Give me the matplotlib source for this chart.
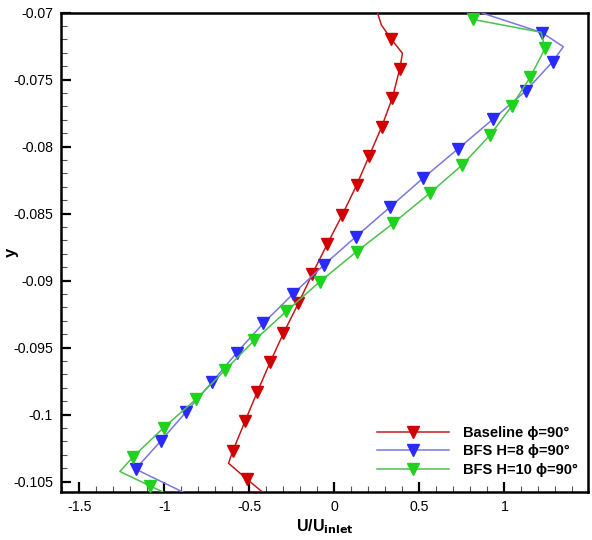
import numpy as np
import matplotlib
matplotlib.use("Agg")
import matplotlib.pyplot as plt
from matplotlib.ticker import FixedLocator, MultipleLocator, FuncFormatter

plt.rcParams['font.family'] = ['Liberation Sans', 'DejaVu Sans']
plt.rcParams['axes.unicode_minus'] = False

# ---- data (vertices of each profile; mark = 1 where a symbol is drawn) ----
base_u = [0.253, 0.276, 0.335, 0.400, 0.384, 0.341, 0.277, 0.204, 0.130, 0.046,
          -0.042, -0.130, -0.212, -0.300, -0.378, -0.453, -0.525, -0.597, -0.623,
          -0.515, -0.423]
base_y = [-0.0700, -0.07092, -0.07199, -0.07303, -0.07420, -0.07634, -0.07855,
          -0.08070, -0.08288, -0.08510, -0.08726, -0.08950, -0.09169, -0.09393,
          -0.09609, -0.09828, -0.10047, -0.10269, -0.10363, -0.10482, -0.10579]
base_m = [0, 0, 1, 0, 1, 1, 1, 1, 1, 1, 1, 1, 1, 1, 1, 1, 1, 1, 0, 1, 0]

h8_u = [0.863, 1.221, 1.346, 1.283, 1.127, 0.931, 0.726, 0.521, 0.326, 0.126,
        -0.062, -0.245, -0.418, -0.574, -0.720, -0.871, -1.019, -1.170, -0.890]
h8_y = [-0.0700, -0.07149, -0.07254, -0.07366, -0.07582, -0.07796, -0.08017,
        -0.08235, -0.08452, -0.08672, -0.08883, -0.09101, -0.09318, -0.09537,
        -0.09758, -0.09978, -0.10194, -0.10407, -0.10579]
h8_m = [0, 1, 0, 1, 1, 1, 1, 1, 1, 1, 1, 1, 1, 1, 1, 1, 1, 1, 0]

h10_u = [0.814, 1.215, 1.239, 1.151, 1.043, 0.916, 0.752, 0.560, 0.345, 0.130,
         -0.085, -0.284, -0.472, -0.642, -0.812, -1.004, -1.184, -1.262, -1.086,
         -1.006]
h10_y = [-0.07050, -0.07146, -0.07266, -0.07482, -0.07696, -0.07913, -0.08136,
         -0.08348, -0.08572, -0.08784, -0.09007, -0.09230, -0.09447, -0.09666,
         -0.09883, -0.10097, -0.10315, -0.10425, -0.10532, -0.10579]
h10_m = [1, 0, 1, 1, 1, 1, 1, 1, 1, 1, 1, 1, 1, 1, 1, 1, 1, 0, 1, 0]

labels = ['Baseline \u03d5=90\u00b0', 'BFS H=8 \u03d5=90\u00b0', 'BFS H=10 \u03d5=90\u00b0']

x_ticks = [-1.5, -1, -0.5, 0, 0.5, 1]
y_ticks = [-0.105, -0.1, -0.095, -0.09, -0.085, -0.08, -0.075, -0.07]

# ---- styling ----
series = [
    (base_u, base_y, base_m, '#c41a1a', '#d00000'),
    (h8_u, h8_y, h8_m, '#7878e0', '#2a2aff'),
    (h10_u, h10_y, h10_m, '#4cc04c', '#1ed21e'),
]

fig = plt.figure(figsize=(5.92, 5.40), dpi=100)
ax = fig.add_axes([60.7 / 592, 1 - 492 / 540, (588.3 - 60.7) / 592, (492 - 12.7) / 540])

for (u, y, m, lc, mc), lab in zip(series, labels):
    idx = [i for i, f in enumerate(m) if f]
    ax.plot(u, y, '-', color=lc, lw=1.1, marker='v', markevery=idx, ms=8.5,
            mfc=mc, mec=mc, label=lab, zorder=3)

ax.set_xlim(-1.61, 1.493)
ax.set_ylim(-0.10578, -0.07)

ax.xaxis.set_major_locator(FixedLocator(x_ticks))
ax.xaxis.set_minor_locator(MultipleLocator(0.1))
ax.yaxis.set_major_locator(FixedLocator(y_ticks))
ax.yaxis.set_minor_locator(MultipleLocator(0.001))
ax.xaxis.set_major_formatter(FuncFormatter(lambda v, p: '%g' % round(v, 4)))
ax.yaxis.set_major_formatter(FuncFormatter(lambda v, p: '%g' % round(v, 5)))

ax.tick_params(which='both', direction='in', top=False, right=False)
ax.tick_params(which='major', length=7.5, width=1.6, labelsize=10.2, pad=5.5, color='black')
ax.tick_params(which='minor', length=4, width=0.8, color='#555555')
for s in ax.spines.values():
    s.set_linewidth(1.8)

ax.set_xlabel('U/U$_{\\mathbf{inlet}}$', fontsize=11.5, fontweight='bold')
ax.xaxis.set_label_coords(0.5, -(517 - 492) / 479.3)
ax.set_ylabel('y', fontsize=12, fontweight='bold')
ax.yaxis.set_label_coords(-(60.7 - 19) / 527.6, 0.5)

leg = ax.legend(loc='upper left', bbox_to_anchor=((377.3 - 60.7) / 527.6, (492 - 426) / 479.3),
                frameon=False, handlelength=4.9, handletextpad=0.95, borderpad=0,
                borderaxespad=0, labelspacing=0.3, markerscale=1.0,
                prop={'weight': 'bold', 'size': 10.5})

fig.savefig('out.png', dpi=100, facecolor='white')
